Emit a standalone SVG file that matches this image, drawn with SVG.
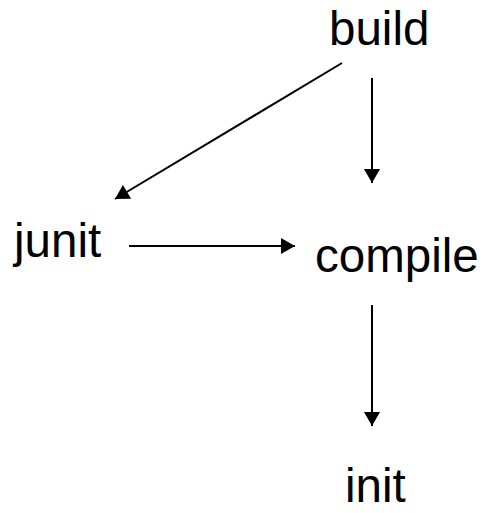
<svg xmlns="http://www.w3.org/2000/svg" width="484" height="513" viewBox="0 0 484 513">
  <style>
    .label { font-family: "Liberation Sans", Arial, sans-serif; font-size: 47.5px; fill: #000; }
    .edge { stroke: #000; stroke-width: 2; fill: none; marker-end: url(#arrow); }
  </style>
  <defs>
    <marker id="arrow" markerUnits="userSpaceOnUse" markerWidth="16" markerHeight="16" viewBox="0 0 14 16" refX="14" refY="8" orient="auto">
      <path d="M0,0 L14,8 L0,16 Z" fill="#000"/>
    </marker>
  </defs>
  <rect width="484" height="513" fill="#fff"/>
  <g id="connectors">
    <line class="edge" x1="342" y1="63" x2="115" y2="199"/>
    <line class="edge" x1="372" y1="78" x2="372" y2="183"/>
    <line class="edge" x1="129" y1="246" x2="295" y2="246"/>
    <line class="edge" x1="372" y1="305" x2="372" y2="426"/>
  </g>
  <g id="build"><text class="label" x="329" y="45">build</text></g>
  <g id="junit"><text class="label" x="14" y="257">junit</text></g>
  <g id="compile"><text class="label" x="315" y="272">compile</text></g>
  <g id="init"><text class="label" x="345" y="502">init</text></g>
</svg>
